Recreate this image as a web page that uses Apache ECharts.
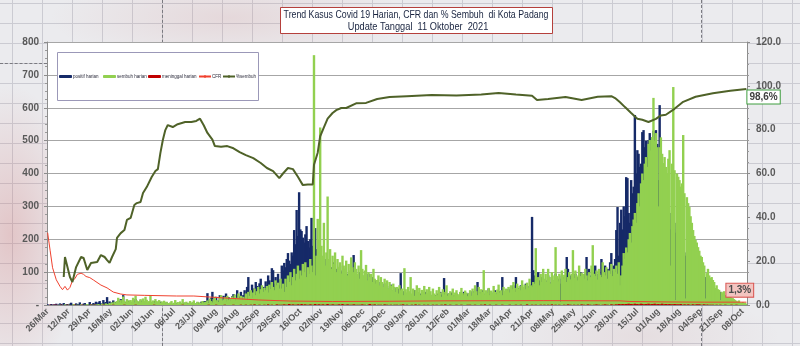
<!DOCTYPE html>
<html>
<head>
<meta charset="utf-8">
<title>Trend Kasus Covid 19 Harian Kota Padang</title>
<script src="https://cdn.jsdelivr.net/npm/echarts@6/dist/echarts.min.js"></script>
<style>
  html, body { margin: 0; padding: 0; }
  body { width: 800px; height: 346px; overflow: hidden; position: relative; background: #ebebee; }
  #sheet {
    position: absolute; left: 0; top: 0; width: 800px; height: 346px;
    background-image:
      radial-gradient(ellipse 70px 150px at 10px 235px, rgba(205,110,110,0.30), rgba(205,110,110,0)),
      radial-gradient(ellipse 180px 45px at 230px 18px, rgba(205,140,140,0.20), rgba(205,140,140,0)),
      radial-gradient(ellipse 140px 40px at 640px 336px, rgba(200,150,150,0.16), rgba(200,150,150,0)),
      linear-gradient(to right, #cbcbd2 1px, transparent 1px),
      linear-gradient(to bottom, #cbcbd2 1px, transparent 1px);
    background-size: 100% 100%, 100% 100%, 100% 100%, 30px 100%, 100% 20px;
    background-position: 0 0, 0 0, 0 0, 12px 0, 0 3px;
  }
  .brk { position: absolute; border-color: #7a7a80; border-style: dashed; border-width: 0; }
  #chart { position: absolute; left: 0; top: 0; width: 800px; height: 346px; }
</style>
</head>
<body>
<div id="sheet"></div>
<div class="brk" style="left:162px;top:0;height:346px;border-left-width:1px;"></div>
<div class="brk" style="left:701px;top:0;height:346px;border-left-width:1px;"></div>
<div class="brk" style="left:0;top:63px;width:47px;border-top-width:1px;"></div>
<div id="chart"></div>
<script>
// Daily series, one value per day starting 26 March 2020 (one line per month).
const positifHarian = [
  2,0,1,3,0,2,
  1,4,0,2,5,3,0,6,2,1,3,0,4,7,2,1,0,5,3,2,8,1,0,4,6,2,3,1,9,2,
  3,6,2,10,4,8,12,5,3,15,7,9,24,6,11,4,8,14,5,9,3,12,7,18,10,30,6,9,4,13,8,
  8,5,12,4,18,6,3,9,14,5,7,2,11,4,6,9,3,8,5,12,4,2,7,3,10,5,4,6,2,8,
  3,1,4,2,0,5,2,6,1,3,0,4,2,7,3,1,5,2,0,3,6,2,4,1,8,3,5,10,4,12,6,
  12,36,8,15,22,40,10,18,25,9,14,30,20,11,28,16,35,12,24,19,8,27,33,14,21,45,18,26,40,15,30,
  45,30,55,85,40,28,62,50,35,70,58,42,66,80,48,55,38,72,60,90,75,52,112,106,65,85,70,95,60,78,
  120,105,128,115,140,158,135,125,160,150,228,185,289,210,343,230,225,205,190,215,240,195,175,200,265,180,160,234,170,150,180,
  150,120,95,130,110,140,90,125,100,115,80,130,95,110,85,100,120,75,105,90,110,70,95,85,100,115,80,152,90,75,
  85,70,100,60,90,75,55,80,65,95,60,70,85,50,65,75,45,70,52,60,40,55,65,48,58,42,50,62,38,45,52,
  30,45,50,40,97,35,42,38,30,25,40,35,30,28,33,45,30,25,38,22,35,28,30,26,40,24,30,35,20,28,32,
  25,30,20,35,28,40,32,22,82,30,25,35,20,28,38,25,30,22,35,28,20,32,25,30,40,22,28,35,
  30,38,25,42,30,35,28,70,32,40,26,45,35,30,38,28,50,33,40,25,35,45,30,38,28,42,35,85,40,30,45,
  40,48,35,55,42,60,50,85,45,52,40,60,48,55,38,65,50,45,58,62,268,106,90,80,70,100,75,60,85,70,
  60,75,55,90,70,50,85,60,75,95,70,55,80,65,90,70,85,60,146,110,75,90,65,80,70,95,60,85,75,100,80,
  85,70,95,146,80,110,90,75,100,85,120,95,80,105,90,140,100,85,120,95,110,90,130,158,105,120,140,228,298,150,
  250,290,230,300,270,389,386,280,250,380,340,360,578,400,471,460,420,430,526,532,480,500,450,502,523,480,500,530,460,532,490,
  380,608,420,350,390,330,310,350,300,280,230,260,240,250,220,230,200,210,190,180,170,160,150,145,130,120,115,100,95,90,85,
  80,75,70,65,60,55,50,85,45,40,38,35,30,33,28,25,30,22,20,40,18,20,15,18,12,14,10,12,9,8,
  8,6,7,5,6,4,5,3,4,3,2
];

const sembuhHarian = [
  0,0,0,0,0,0,
  0,0,0,0,1,0,0,0,2,0,0,1,0,0,0,3,0,0,1,0,0,2,0,0,1,0,3,0,0,2,
  0,1,0,2,0,3,1,0,4,2,0,5,3,1,6,2,8,4,10,6,12,22,9,15,7,26,12,8,18,10,14,
  15,10,22,8,28,14,6,12,18,9,20,11,25,16,8,12,30,10,14,7,18,12,9,15,6,11,8,13,5,10,
  6,3,8,12,4,7,15,5,9,3,11,6,18,4,8,10,3,7,12,5,9,14,4,6,10,3,8,5,12,7,9,
  10,14,6,20,12,8,18,25,11,15,9,22,30,13,17,24,10,28,15,20,12,26,18,32,14,22,35,20,28,16,25,
  20,35,15,40,28,45,22,38,50,30,42,55,35,48,60,40,52,45,58,38,62,50,70,55,45,75,60,68,50,80,
  50,65,40,80,55,90,70,100,60,85,110,75,95,120,80,105,90,125,100,130,85,115,95,140,120,100,760,90,150,262,200,
  540,180,150,250,120,160,330,140,170,110,150,125,160,100,140,115,130,95,150,120,110,135,90,125,105,145,115,100,130,110,
  95,120,80,167,110,90,105,122,75,100,85,95,70,110,80,65,76,90,60,85,70,55,80,65,75,50,70,60,45,65,55,
  40,55,35,60,45,50,30,112,48,38,55,42,85,35,50,28,45,60,38,52,30,46,40,58,33,48,36,55,42,30,50,
  35,28,45,30,55,38,25,48,32,40,60,28,35,42,30,50,26,38,45,33,29,40,52,36,30,44,38,27,
  35,45,28,50,38,60,42,30,55,35,48,40,106,32,45,38,52,30,44,36,58,40,33,47,62,38,45,30,55,42,50,
  45,55,38,60,48,70,52,40,65,50,58,45,75,55,62,48,68,52,80,60,55,70,65,173,75,85,60,95,70,110,
  80,95,70,110,85,65,100,75,90,176,88,72,95,10,105,80,92,110,70,85,100,78,95,167,82,105,90,75,120,88,98,
  95,80,110,90,75,100,85,120,182,95,88,105,78,110,92,85,130,100,90,115,80,105,95,125,88,110,100,120,95,130,
  60,90,120,158,140,175,160,200,219,190,240,260,280,250,310,340,300,370,400,380,430,450,420,490,502,470,511,630,500,523,480,
  300,480,510,460,432,450,420,400,445,471,120,430,663,410,15,400,390,380,360,370,517,340,20,328,310,298,270,250,228,210,198,
  190,176,165,150,146,130,120,20,97,110,90,82,85,76,70,52,60,48,46,15,40,36,42,30,28,32,24,26,22,21,
  18,15,12,10,14,8,6,9,5,7,4
];

const meninggalHarian = [
  0,0,1,0,0,1,
  0,1,0,0,0,1,0,0,0,0,1,0,0,0,0,0,1,0,0,0,0,0,1,0,0,0,0,0,0,1,
  0,0,1,0,0,0,0,0,0,1,0,0,0,0,0,0,0,1,0,0,0,0,0,0,0,0,1,0,0,0,0,
  0,0,0,0,1,0,0,0,0,0,0,0,0,0,0,0,0,0,0,1,0,0,0,0,0,0,0,0,0,0,
  0,0,0,0,0,0,0,0,0,0,0,0,1,0,0,0,0,0,0,0,0,0,0,0,0,0,0,0,0,0,0,
  0,0,1,0,0,0,0,0,1,0,0,0,0,0,0,1,0,0,0,0,0,0,1,0,0,0,0,0,1,0,0,
  0,1,0,0,0,1,0,0,2,0,0,0,1,0,0,0,1,0,0,2,0,0,1,0,0,0,2,0,1,0,
  1,0,2,0,1,0,3,1,0,2,0,1,0,2,1,0,3,0,1,2,0,1,0,2,1,0,1,3,0,1,2,
  1,0,2,1,0,1,3,0,1,0,2,1,0,1,0,2,1,0,3,0,1,0,2,1,0,1,0,2,1,0,
  1,0,1,0,2,0,1,0,0,1,3,0,1,0,2,0,0,1,0,1,0,0,2,0,1,0,0,1,0,0,1,
  0,1,0,0,1,0,2,0,0,1,0,0,0,1,0,0,2,0,0,1,0,0,0,1,0,0,1,0,0,0,1,
  0,0,1,0,0,0,1,0,0,2,0,0,0,1,0,0,0,0,1,0,0,0,1,0,0,0,0,1,
  0,1,0,0,0,1,0,0,0,0,1,0,0,2,0,0,0,1,0,0,0,0,1,0,0,0,0,1,0,0,0,
  0,0,1,0,0,0,0,1,0,0,0,1,0,0,0,0,2,0,0,0,1,0,0,1,0,0,0,1,0,0,
  1,0,0,1,0,0,2,0,0,1,0,0,1,0,0,0,1,0,0,2,0,1,0,0,1,0,0,1,0,0,2,
  0,1,0,0,2,0,1,0,0,1,0,2,0,1,0,0,1,0,2,0,1,0,0,2,1,0,1,2,0,3,
  2,1,3,2,1,3,2,4,1,3,2,1,4,2,3,1,2,4,3,1,2,3,1,4,2,1,3,2,4,1,2,
  3,1,2,4,1,2,3,1,2,3,1,2,1,3,2,1,2,1,3,1,0,2,1,0,2,1,0,1,2,0,1,
  2,1,2,1,0,1,2,0,1,1,0,1,0,1,0,0,1,0,0,1,0,0,0,1,0,0,0,0,1,0,
  0,0,1,0,0,0,0,0,0,0,0
];

// Cumulative recovery rate (% sembuh), right axis
const sembuhPctDates = [
  '2020-04-08','2020-04-09','2020-04-13','2020-04-15','2020-04-18','2020-04-22','2020-04-24','2020-04-27','2020-04-30',
  '2020-05-05','2020-05-08','2020-05-11','2020-05-13','2020-05-15','2020-05-17','2020-05-20','2020-05-21','2020-05-24','2020-05-27','2020-05-29',
  '2020-06-01','2020-06-04','2020-06-06','2020-06-09','2020-06-11','2020-06-14','2020-06-18','2020-06-21','2020-06-23','2020-06-25','2020-06-27','2020-06-29',
  '2020-07-01','2020-07-05','2020-07-09','2020-07-15','2020-07-20','2020-07-24','2020-07-27','2020-07-30',
  '2020-08-02','2020-08-06','2020-08-08','2020-08-13','2020-08-18','2020-08-23','2020-08-28',
  '2020-09-02','2020-09-08','2020-09-14','2020-09-19','2020-09-24','2020-09-29',
  '2020-10-02','2020-10-06','2020-10-10','2020-10-14','2020-10-18','2020-10-22','2020-10-26','2020-10-27','2020-10-30',
  '2020-11-01','2020-11-04','2020-11-07','2020-11-11','2020-11-14','2020-11-18','2020-11-22','2020-11-30',
  '2020-12-08','2020-12-17','2020-12-27',
  '2021-01-10','2021-01-30','2021-02-19','2021-03-11','2021-03-25','2021-04-08','2021-04-21','2021-04-25',
  '2021-05-04','2021-05-18','2021-05-31','2021-06-13','2021-06-24','2021-06-27',
  '2021-07-01','2021-07-05','2021-07-10','2021-07-15','2021-07-19','2021-07-24','2021-07-30',
  '2021-08-03','2021-08-07','2021-08-14','2021-08-21','2021-08-31',
  '2021-09-14','2021-09-28','2021-10-11'
];
const sembuhPctValues = [
  12.8,21.9,12.8,10.5,17.3,21.9,21.5,16.0,19.2,
  19.6,22.8,21.9,20.5,19.2,21.9,25.5,30.6,32.8,34.2,38.8,
  39.7,45.6,46.5,47.0,51.1,53.8,58.4,61.1,62.0,69.3,75.3,79.8,
  82.1,81.2,82.5,83.5,83.5,84.0,85.0,82.0,
  78.5,75.5,72.5,72.2,72.5,71.5,69.8,
  68.4,67.0,64.8,62.5,61.1,57.9,
  60.0,62.5,62.0,58.5,54.7,55.0,55.0,64.0,69.5,
  77.0,81.0,85.0,87.6,88.9,89.9,89.9,92.0,
  92.2,94.0,94.9,
  95.3,95.8,95.6,96.0,96.7,96.0,95.5,93.5,
  94.0,94.9,93.5,95.0,95.3,94.4,
  92.5,90.3,87.6,85.0,84.5,83.5,84.9,
  86.5,86.8,89.5,92.7,95.0,
  96.6,97.8,98.6
];

// Case fatality rate (CFR, %), right axis
const cfrDates = [
  '2020-03-26','2020-03-28','2020-03-30','2020-04-02','2020-04-05','2020-04-07','2020-04-09','2020-04-11','2020-04-13',
  '2020-04-15','2020-04-17','2020-04-19','2020-04-22','2020-04-24','2020-04-26','2020-04-29',
  '2020-05-02','2020-05-08','2020-05-13','2020-05-18','2020-05-24','2020-05-29',
  '2020-06-12','2020-07-08','2020-07-22','2020-08-16','2020-09-12','2020-10-08','2020-11-11','2020-12-27',
  '2021-02-09','2021-04-30','2021-07-01','2021-07-09','2021-08-08','2021-09-07','2021-10-11'
];
const cfrValues = [
  33.0,25.0,17.0,11.5,8.5,7.0,8.5,6.8,8.0,
  11.0,12.0,14.0,14.5,14.0,13.0,12.5,
  11.4,9.1,7.8,5.9,5.0,4.6,
  4.4,4.1,4.1,3.2,2.3,1.8,1.6,1.7,
  1.9,2.0,1.9,1.6,1.4,1.3,1.3
];

const seriesNames = ['positif harian', 'sembuh harian', 'meninggal harian', 'CFR', '%sembuh'];
const legendLefts = [59, 103, 148, 198, 222];
const monthNames = ['Jan','Feb','Mar','Apr','May','Jun','Jul','Aug','Sep','Oct','Nov','Dec'];
const startDate = Date.UTC(2020, 2, 26);
const pad = n => (n < 10 ? '0' : '') + n;
const isoDay = t => { const d = new Date(t); return d.getUTCFullYear() + '-' + pad(d.getUTCMonth() + 1) + '-' + pad(d.getUTCDate()); };
const dates = positifHarian.map((_, i) => isoDay(startDate + i * 86400000));
const tickLabel = s => s.slice(8, 10) + '/' + monthNames[+s.slice(5, 7) - 1];
const pctLabel = p => { const v = Array.isArray(p.value) ? p.value[1] : p.value; return v.toFixed(1).replace('.', ',') + '%'; };
const pairs = (ds, vs) => ds.map((d, i) => [d, vs[i]]);

const axisFont = { fontFamily: 'Liberation Sans', fontWeight: 'bold', color: '#595959' };
const titleFont = '10.5px "Liberation Sans"';

// One legend block per entry so each sits at its own spot inside the legend frame
const legends = seriesNames.map((name, i) => ({
  data: [name], left: legendLefts[i], top: 74, z: 12,
  itemWidth: i < 3 ? 13 : 12, itemHeight: 3, padding: 0,
  textStyle: { fontSize: 4.5, color: '#2a2a3a', fontFamily: 'Liberation Sans', padding: [0, 0, 0, -4] }
}));

const barStyle = color => ({ color: color });

const chart = echarts.init(document.getElementById('chart'), null, { renderer: 'canvas' });
chart.setOption({
  animation: false,
  backgroundColor: 'transparent',
  grid: { left: 47, right: 53, top: 42, bottom: 41, show: true, backgroundColor: '#ffffff', borderWidth: 0 },
  graphic: [
    { type: 'rect', shape: { x: 280.5, y: 7.5, width: 272, height: 26 }, style: { fill: '#ffffff', stroke: '#b5403c', lineWidth: 1 }, z: 10 },
    { type: 'text', x: 416, y: 15, scaleX: 0.835, z: 11, style: { text: 'Trend Kasus Covid 19 Harian, CFR dan % Sembuh  di Kota Padang', align: 'center', verticalAlign: 'middle', font: titleFont, fill: '#18233f' } },
    { type: 'text', x: 418, y: 27, scaleX: 0.88, z: 11, style: { text: 'Update Tanggal  11 Oktober  2021', align: 'center', verticalAlign: 'middle', font: titleFont, fill: '#18233f' } },
    { type: 'rect', shape: { x: 57.5, y: 52.5, width: 201, height: 48 }, style: { fill: '#ffffff', stroke: '#9b98b8', lineWidth: 1 }, z: 10 }
  ],
  legend: legends,
  xAxis: {
    type: 'category',
    data: dates,
    axisLine: { lineStyle: { color: '#8c8c8c' } },
    axisTick: { interval: 16, alignWithLabel: true, length: 4, lineStyle: { color: '#8c8c8c' } },
    axisLabel: Object.assign({ interval: 16, rotate: 45, fontSize: 9, margin: 5, formatter: tickLabel }, axisFont),
    splitLine: { show: false }
  },
  yAxis: [
    {
      type: 'value', min: 0, max: 800, interval: 100,
      axisLine: { show: true, lineStyle: { color: '#8c8c8c' } },
      axisTick: { show: true, length: 3, lineStyle: { color: '#8c8c8c' } },
      minorTick: { show: true, splitNumber: 4, length: 2, lineStyle: { color: '#9a9a9a' } },
      axisLabel: Object.assign({ fontSize: 10, margin: 8, formatter: v => (v === 0 ? '-' : String(v)) }, axisFont),
      splitLine: { lineStyle: { color: '#a6a6a6', width: 1 } }
    },
    {
      type: 'value', min: 0, max: 120, interval: 20,
      axisLine: { show: true, lineStyle: { color: '#8c8c8c' } },
      axisTick: { show: true, length: 3, lineStyle: { color: '#8c8c8c' } },
      minorTick: { show: true, splitNumber: 4, length: 2, lineStyle: { color: '#9a9a9a' } },
      axisLabel: Object.assign({ fontSize: 10, margin: 9, formatter: v => v.toFixed(1) }, axisFont),
      splitLine: { show: false }
    }
  ],
  series: [
    { name: seriesNames[0], type: 'bar', data: positifHarian, barGap: '-100%', barWidth: 2.4, itemStyle: barStyle('#162a68') },
    { name: seriesNames[1], type: 'bar', data: sembuhHarian, barGap: '-100%', barWidth: 2.4, itemStyle: barStyle('#92d050') },
    { name: seriesNames[2], type: 'bar', data: meninggalHarian, barGap: '-100%', barWidth: 2.4, itemStyle: barStyle('#c00000') },
    {
      name: seriesNames[3], type: 'line', yAxisIndex: 1, symbol: 'none',
      data: pairs(cfrDates, cfrValues),
      lineStyle: { color: '#f0412e', width: 1 }, itemStyle: { color: '#f0412e' },
      endLabel: {
        show: true, formatter: pctLabel, distance: 0, offset: [-20, -12],
        fontFamily: 'Liberation Sans', fontWeight: 'bold', fontSize: 10, color: '#4a4a4a',
        backgroundColor: '#f3c4c0', borderColor: '#d9534f', borderWidth: 1, padding: [2, 2, 1, 2]
      }
    },
    {
      name: seriesNames[4], type: 'line', yAxisIndex: 1, symbol: 'none',
      data: pairs(sembuhPctDates, sembuhPctValues),
      lineStyle: { color: '#4f6228', width: 2 }, itemStyle: { color: '#4f6228' },
      endLabel: {
        show: true, formatter: pctLabel, distance: 1, offset: [0, 8],
        fontFamily: 'Liberation Sans', fontWeight: 'bold', fontSize: 10, color: '#404040',
        backgroundColor: '#ffffff', borderColor: '#3f9e3f', borderWidth: 1, padding: [2, 2, 1, 2]
      }
    }
  ]
});
</script>
</body>
</html>
